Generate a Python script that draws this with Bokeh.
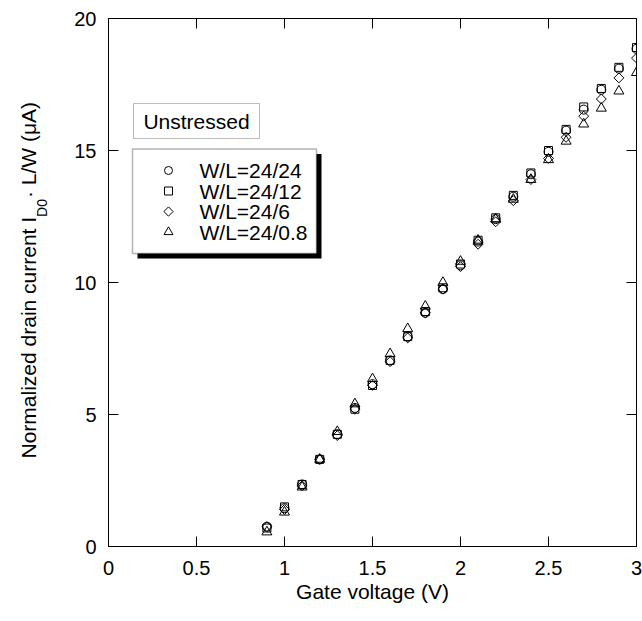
import math
from bokeh.plotting import figure
from bokeh.layouts import row
from bokeh.models import (Range1d, LinearAxis, FixedTicker, NumeralTickFormatter,
                          BasicTickFormatter, Label, BoxAnnotation, CustomLabelingPolicy)
from bokeh.core.properties import value
from bokeh.embed import file_html
from bokeh.resources import INLINE

# ---------------- data ----------------
gate_voltage = [0.9, 1.0, 1.1, 1.2, 1.3, 1.4, 1.5, 1.6, 1.7, 1.8, 1.9,
                2.0, 2.1, 2.2, 2.3, 2.4, 2.5, 2.6, 2.7, 2.8, 2.9, 3.0]
wl_24_24 = [0.75, 1.45, 2.35, 3.30, 4.25, 5.25, 6.15, 7.05, 7.95, 8.85, 9.75,
            10.65, 11.55, 12.40, 13.25, 14.10, 14.95, 15.75, 16.55, 17.30, 18.10, 18.85]
wl_24_12 = [0.70, 1.50, 2.35, 3.30, 4.25, 5.20, 6.10, 7.05, 7.95, 8.90, 9.80,
            10.70, 11.60, 12.45, 13.30, 14.15, 15.00, 15.80, 16.65, 17.35, 18.15, 18.90]
wl_24_6 = [0.75, 1.40, 2.30, 3.30, 4.20, 5.20, 6.10, 7.00, 7.90, 8.85, 9.75,
           10.60, 11.45, 12.30, 13.10, 13.90, 14.70, 15.50, 16.30, 16.95, 17.75, 18.50]
wl_24_08 = [0.55, 1.30, 2.25, 3.30, 4.35, 5.40, 6.35, 7.30, 8.25, 9.10, 10.00,
            10.80, 11.60, 12.40, 13.15, 13.90, 14.65, 15.35, 16.00, 16.60, 17.25, 17.95]
series_labels = ["W/L=24/24", "W/L=24/12", "W/L=24/6", "W/L=24/0.8"]
x_ticks = [0, 0.5, 1, 1.5, 2, 2.5, 3]
y_ticks = [0, 5, 10, 15, 20]
legend_title = "Unstressed"
x_title = "Gate voltage (V)"
y_title_main = "Normalized drain current I"
y_title_sub = "D0"
y_title_tail = " \u00b7 L/W (\u03bcA)"

FONT = "Liberation Sans"

# ---------------- geometry (page pixels) ----------------
W, H = 642, 621
LW = 70                       # width of the strip holding the y title
FX0, FX1 = 108, 636
FY0, FY1 = 18, 546
XMIN, XMAX, YMIN, YMAX = 0, 3, 0, 20


def dx(px):
    return XMIN + (px - FX0) / (FX1 - FX0) * (XMAX - XMIN)


def dy(py):
    return YMIN + (FY1 - py) / (FY1 - FY0) * (YMAX - YMIN)


# ---------------- y-title strip (frame aligned with main plot) ----------------
t = figure(width=LW, height=H, output_backend="svg", toolbar_location=None,
           x_range=Range1d(0, LW), y_range=Range1d(H - FY1, H - FY0),
           min_border_left=0, min_border_right=0, min_border_top=FY0,
           min_border_bottom=H - FY1, x_axis_type=None, y_axis_type=None)
t.outline_line_color = None
t.xgrid.visible = False
t.ygrid.visible = False
t.background_fill_color = "white"
t.border_fill_color = "white"

f_main, f_sub = 21, 14
main_em, sub_em = 11.503, 1.278
y_start = 458
x_base = 28
y_sub = y_start - main_em * f_main
y_tail = y_sub - sub_em * f_sub - 1
for (tx, ty, txt, fs) in [(x_base, y_start, y_title_main, f_main),
                          (x_base + 13, y_sub, y_title_sub, f_sub),
                          (x_base, y_tail, y_title_tail, f_main)]:
    t.text(x=[tx], y=[H - ty], text=[txt], angle=math.pi / 2,
           text_font=value(FONT), text_font_size=value(f"{fs}px"),
           text_align="left", text_baseline="alphabetic", text_color="black")

# ---------------- main plot ----------------
p = figure(width=W - LW, height=H, output_backend="svg", toolbar_location=None,
           x_range=Range1d(XMIN, XMAX), y_range=Range1d(YMIN, YMAX),
           min_border_left=FX0 - LW, min_border_right=W - FX1,
           min_border_top=FY0, min_border_bottom=H - FY1,
           x_axis_label=x_title)
p.background_fill_color = "white"
p.border_fill_color = "white"
p.outline_line_color = "black"
p.outline_line_width = 1
p.xgrid.visible = False
p.ygrid.visible = False

top_ax = LinearAxis()
right_ax = LinearAxis()
p.add_layout(top_ax, "above")
p.add_layout(right_ax, "right")

for ax in p.xaxis:
    ax.ticker = FixedTicker(ticks=x_ticks)
    ax.formatter = NumeralTickFormatter(format="0.[0]")
for ax in p.yaxis:
    ax.ticker = FixedTicker(ticks=y_ticks)
    ax.formatter = BasicTickFormatter()
for ax in list(p.xaxis) + list(p.yaxis):
    ax.major_tick_in = 10
    ax.major_tick_out = 0
    ax.minor_tick_line_color = None
    ax.axis_line_color = "black"
    ax.major_tick_line_color = "black"
    ax.major_label_text_font = FONT
    ax.major_label_text_font_size = "20px"
    ax.major_label_text_color = "black"
    ax.major_label_standoff = 12
p.below[0].major_label_standoff = 14
for ax in (top_ax, right_ax):
    ax.major_label_policy = CustomLabelingPolicy(code="return []")
    ax.major_label_text_font_size = "0px"
    ax.major_label_standoff = 0

xa = p.below[0]
xa.axis_label_text_font = FONT
xa.axis_label_text_font_size = "21px"
xa.axis_label_text_font_style = "normal"
xa.axis_label_text_color = "black"
xa.axis_label_standoff = 2

# ---------------- data markers ----------------
p.scatter(gate_voltage, wl_24_24, marker="circle", size=9, fill_color=None,
          line_color="black", line_width=1)
p.scatter(gate_voltage, wl_24_12, marker="square", size=8, fill_color=None,
          line_color="black", line_width=1)
p.scatter(gate_voltage, wl_24_6, marker="square", angle=math.pi / 4, size=7,
          fill_color=None, line_color="black", line_width=1)
p.scatter(gate_voltage, wl_24_08, marker="triangle", size=10, fill_color=None,
          line_color="black", line_width=1)

# ---------------- "Unstressed" box ----------------
p.add_layout(BoxAnnotation(left=dx(133), right=dx(259), top=dy(103), bottom=dy(138),
                           fill_color="white", fill_alpha=1, line_color="#222222",
                           line_width=1, level="underlay"))
p.add_layout(Label(x=dx(196), y=dy(121), text=legend_title, text_font=FONT,
                   text_font_size="21px", text_align="center", text_baseline="middle",
                   text_color="black"))

# ---------------- legend with shadow ----------------
p.add_layout(BoxAnnotation(left=dx(137), right=dx(321), top=dy(153.5), bottom=dy(258),
                           fill_color="black", fill_alpha=1, line_color=None,
                           level="underlay"))
p.add_layout(BoxAnnotation(left=dx(132), right=dx(316), top=dy(148.5), bottom=dy(253),
                           fill_color="white", fill_alpha=1, line_color="black",
                           line_width=1.5, level="underlay"))
rows_py = [170, 190.5, 211, 231.5]
markers = ["circle", "square", "square", "triangle"]
angles = [0, 0, math.pi / 4, 0]
msizes = [8, 8, 6.5, 9]
for py, mk, ang, ms, lab in zip(rows_py, markers, angles, msizes, series_labels):
    p.scatter([dx(168)], [dy(py)], marker=mk, angle=ang, size=ms, fill_color=None,
              line_color="black", line_width=1)
    p.add_layout(Label(x=dx(199), y=dy(py), text=lab, text_font=FONT,
                       text_font_size="21px", text_align="left",
                       text_baseline="middle", text_color="black"))

layout = row(t, p, spacing=0)
open("out.html", "w").write(file_html(layout, INLINE))
